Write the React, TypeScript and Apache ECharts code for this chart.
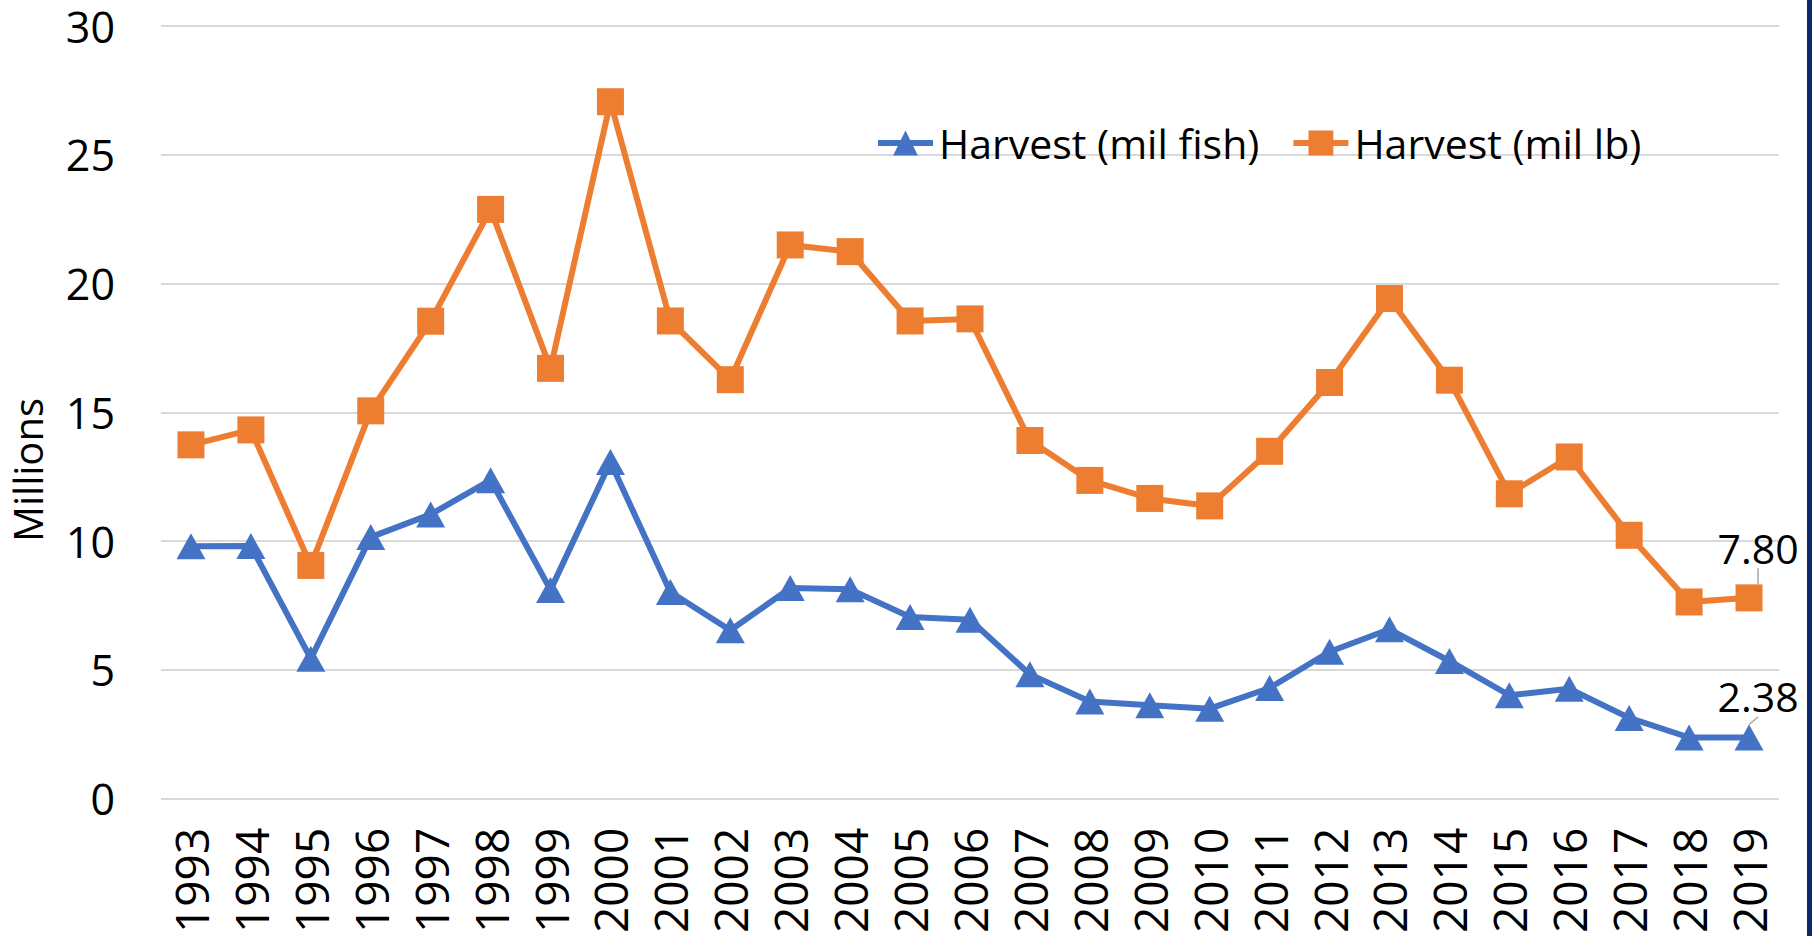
import React, { useEffect, useRef } from "react";
import * as echarts from "echarts";

const years = [
  "1993", "1994", "1995", "1996", "1997", "1998", "1999", "2000", "2001",
  "2002", "2003", "2004", "2005", "2006", "2007", "2008", "2009", "2010",
  "2011", "2012", "2013", "2014", "2015", "2016", "2017", "2018", "2019",
];

const harvestFish = [
  9.8, 9.81, 5.44, 10.16, 11.04, 12.37, 8.11, 13.07, 8.03, 6.54, 8.18, 8.13,
  7.06, 6.95, 4.83, 3.78, 3.63, 3.5, 4.3, 5.71, 6.58, 5.35, 4.02, 4.27, 3.14,
  2.38, 2.38,
];

const harvestLb = [
  13.74, 14.32, 9.06, 15.06, 18.54, 22.88, 16.71, 27.06, 18.55, 16.27, 21.5,
  21.24, 18.55, 18.63, 13.91, 12.36, 11.66, 11.37, 13.49, 16.16, 19.42, 16.25,
  11.84, 13.27, 10.23, 7.64, 7.8,
];

const seriesNames = ["Harvest (mil fish)", "Harvest (mil lb)"];
const yAxisTitle = "Millions";

const FONT = "'Open Sans', 'Noto Sans', 'Liberation Sans', sans-serif";

export default function App() {
  const ref = useRef<HTMLDivElement>(null);

  useEffect(() => {
    if (!ref.current) return;
    const chart = echarts.init(ref.current, undefined, { renderer: "svg" });
    const last = years.length - 1;

    const withLastLabel = (values: number[]) =>
      values.map((v, i) =>
        i === last
          ? {
              value: v,
              label: {
                show: true,
                position: "inside",
                formatter: (p: any) => Number(p.value).toFixed(2),
                color: "#000",
                fontFamily: FONT,
                fontSize: 41,
                lineHeight: 40,
              },
            }
          : v
      );

    const layout = (dy: number) => (p: any) =>
      p.dataIndex === last ? { dx: 9, dy } : {};

    const guide = {
      show: true,
      length2: 0,
      lineStyle: { color: "#a6a6a6", width: 1.5 },
    };

    chart.setOption({
      animation: false,
      backgroundColor: "#ffffff",
      textStyle: { fontFamily: FONT },
      grid: { left: 161, right: 33, top: 26, bottom: 131, containLabel: false },
      legend: {
        show: true,
        left: 875,
        top: 121,
        padding: 0,
        itemWidth: 55,
        itemHeight: 31,
        itemGap: 31,
        data: seriesNames,
        lineStyle: { width: 6 },
        textStyle: { fontFamily: FONT, fontSize: 41, color: "#000", lineHeight: 44, padding: [0, 0, 0, 1] },
      },
      xAxis: {
        type: "category",
        data: years,
        boundaryGap: true,
        axisLine: { show: false },
        axisTick: { show: false },
        axisLabel: {
          rotate: 90,
          margin: 29,
          fontFamily: FONT,
          fontSize: 46,
          color: "#000",
          interval: 0,
        },
        splitLine: { show: false },
      },
      yAxis: {
        type: "value",
        min: 0,
        max: 30,
        interval: 5,
        axisLine: { show: false },
        axisTick: { show: false },
        axisLabel: { margin: 46, fontFamily: FONT, fontSize: 43, lineHeight: 36, color: "#000" },
        splitLine: { show: true, lineStyle: { color: "#d9d9d9", width: 2 } },
      },
      series: [
        {
          name: seriesNames[0],
          type: "line",
          data: withLastLabel(harvestFish),
          symbol: "triangle",
          symbolSize: [29, 26],
          showAllSymbol: true,
          color: "#4472C4",
          lineStyle: { color: "#4472C4", width: 6 },
          itemStyle: { color: "#4472C4" },
          label: { show: false },
          labelLayout: layout(-41),
          labelLine: guide,
          z: 3,
        },
        {
          name: seriesNames[1],
          type: "line",
          data: withLastLabel(harvestLb),
          symbol: "rect",
          symbolSize: 27,
          showAllSymbol: true,
          color: "#ED7D31",
          lineStyle: { color: "#ED7D31", width: 6 },
          itemStyle: { color: "#ED7D31" },
          label: { show: false },
          labelLayout: layout(-50),
          labelLine: guide,
          z: 3,
        },
      ],
      graphic: [
        {
          type: "text",
          x: 27,
          y: 470,
          rotation: Math.PI / 2,
          style: {
            text: yAxisTitle,
            fontFamily: FONT,
            fontSize: 40,
            lineHeight: 40,
            fill: "#000",
            align: "center",
            verticalAlign: "middle",
          },
        },
        {
          type: "rect",
          right: 0,
          top: 0,
          shape: { x: 0, y: 0, width: 5, height: 936 },
          style: { fill: "#0c2868" },
        },
      ],
    });

    return () => chart.dispose();
  }, []);

  return (
    <div
      ref={ref}
      style={{ position: "fixed", left: 0, top: 0, width: 1812, height: 936, background: "#fff" }}
    />
  );
}
